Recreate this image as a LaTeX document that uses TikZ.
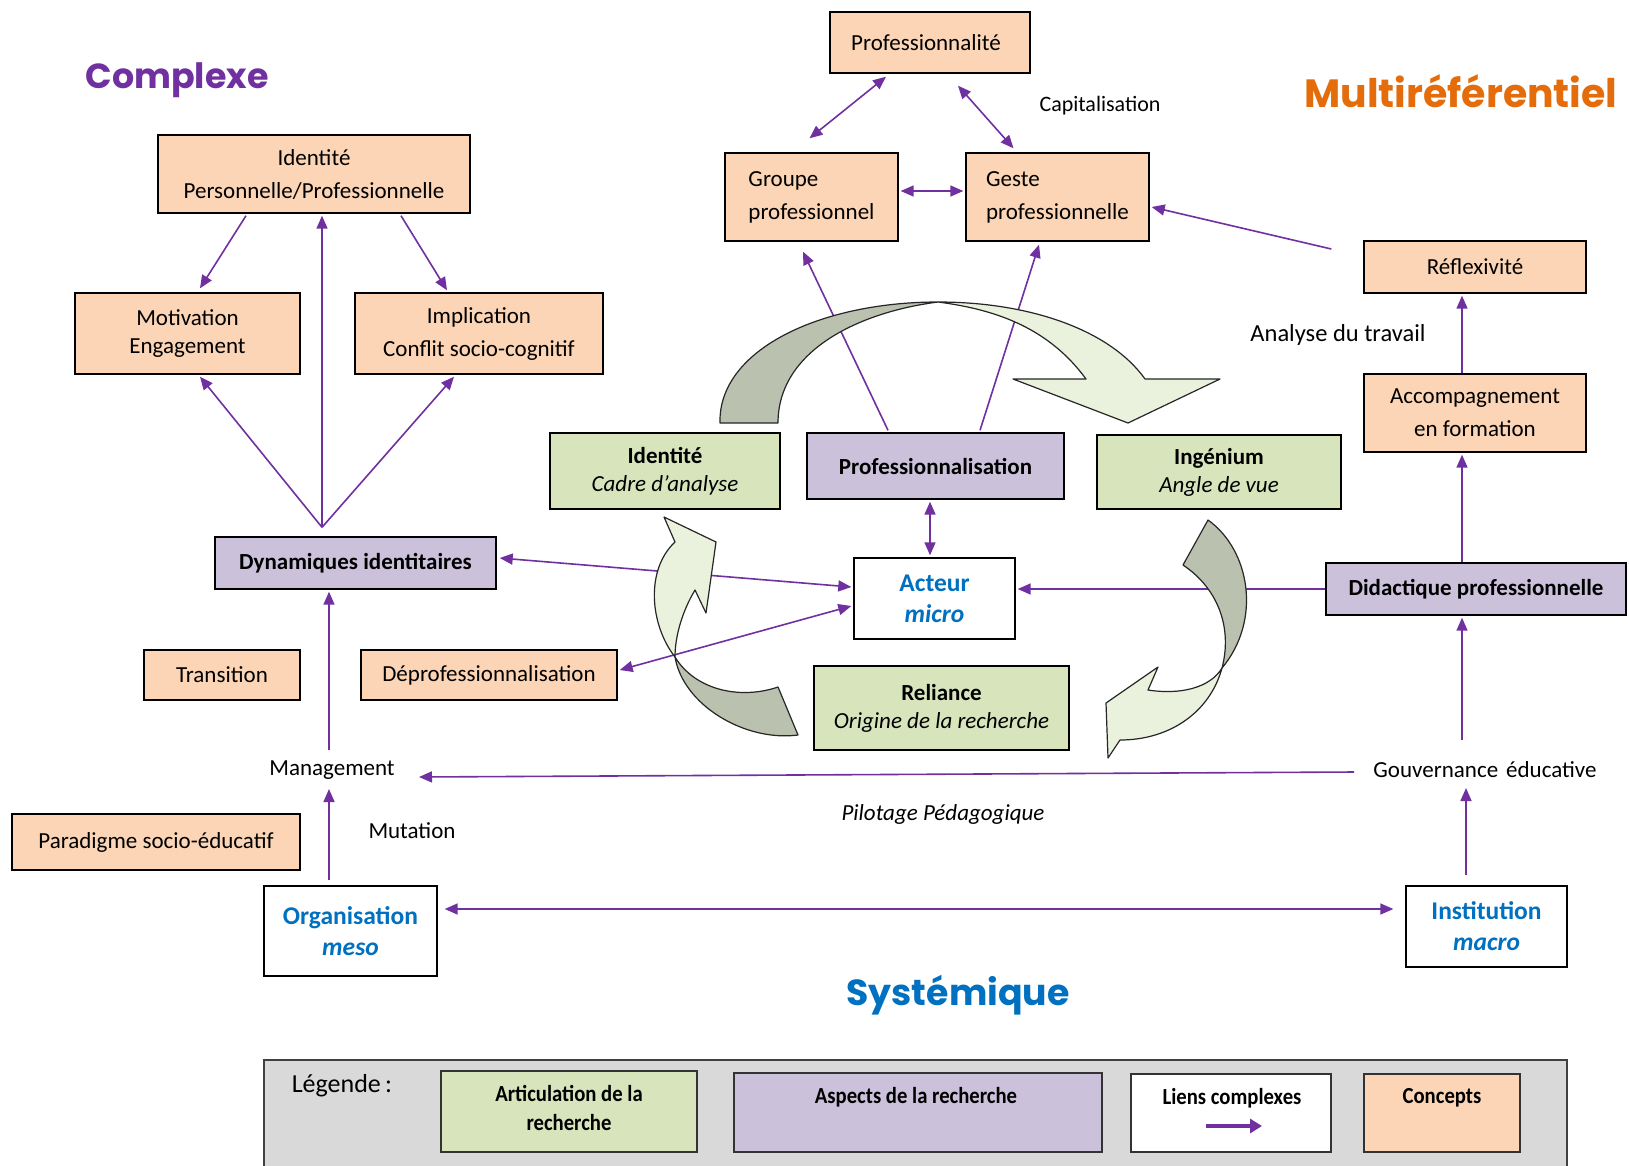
\documentclass[tikz,border=0pt]{standalone}
\usepackage{fontspec}
\setmainfont{Carlito}
\newfontfamily\titlefont{Poppins}
\usetikzlibrary{arrows.meta,calc}
\definecolor{orfill}{HTML}{FBD5B5}
\definecolor{grfill}{HTML}{D7E4BC}
\definecolor{pufill}{HTML}{CCC1DA}
\definecolor{arrcol}{HTML}{7030A0}
\definecolor{bluet}{HTML}{0070C0}
\definecolor{oranget}{HTML}{E46C0A}
\definecolor{darkarc}{HTML}{BAC1AF}
\definecolor{lightarc}{HTML}{EAF1DD}
\definecolor{leggray}{HTML}{D9D9D9}
\begin{document}
\begin{tikzpicture}[x=1pt,y=-1pt,
  base/.style={draw=black, line width=1.4pt, inner sep=0pt, align=center, font=\fontsize{23}{33}\selectfont},
  concept/.style={base, fill=orfill},
  aspect/.style={base, fill=pufill, font=\fontsize{23}{26}\selectfont\bfseries},
  artic/.style={base, fill=grfill, font=\fontsize{23}{28}\selectfont},
  lien/.style={base, fill=white, text=bluet, font=\fontsize{25.5}{31}\selectfont\bfseries},
  lbl/.style={inner sep=0pt, font=\fontsize{23}{26}\selectfont},
  title/.style={inner sep=0pt, font=\titlefont\bfseries},
  arr/.style={draw=arrcol, line width=1.6pt, -{Triangle[length=13pt,width=11pt]}},
  darr/.style={draw=arrcol, line width=1.6pt, {Triangle[length=13pt,width=11pt]}-{Triangle[length=13pt,width=11pt]}},
  arcshape/.style={draw=black!85, line width=1.2pt, line join=round},
  legbox/.style={draw=black!80, line width=1.4pt},
  legtext/.style={inner sep=0pt, align=center, font=\fontsize{23}{29}\selectfont\bfseries}
]
\useasboundingbox (0,0) rectangle (1629,1165);
\fill[white] (0,0) rectangle (1629,1165);

% titles
\node[title, text=arrcol] (tcomplexe) at (177,80) {\resizebox{183pt}{!}{Complexe}};
\node[title, text=oranget] (tmulti) at (1461,91) {\resizebox{313pt}{!}{Multiréférentiel}};
\node[title, text=bluet] (tsyst) at (958,995) {\resizebox{223pt}{!}{Systémique}};

% concepts (orange)
\node[concept, minimum width=200pt, minimum height=61pt] (prof) at (930,42.5) {Professionnalité\hspace{8pt}};
\node[concept, minimum width=173pt, minimum height=88pt, align=left] (groupe) at (811.5,197) {Groupe\\professionnel};
\node[concept, minimum width=183pt, minimum height=88pt, align=left] (geste) at (1057.5,197) {Geste\\professionnelle};
\node[concept, minimum width=222pt, minimum height=52pt] (reflex) at (1475,267) {Réflexivité};
\node[concept, minimum width=222pt, minimum height=78pt] (accomp) at (1475,413) {Accompagnement\\en formation};
\node[concept, minimum width=312pt, minimum height=78pt] (identpp) at (314,174) {Identité\\Personnelle/Professionnelle};
\node[concept, minimum width=225pt, minimum height=81pt, font=\fontsize{23}{28}\selectfont] (motiv) at (187.5,333.5) {Motivation\\Engagement};
\node[concept, minimum width=248pt, minimum height=81pt] (implic) at (479,333.5) {Implication\\Conflit socio-cognitif};
\node[concept, minimum width=156pt, minimum height=50pt] (trans) at (222,675) {Transition};
\node[concept, minimum width=256pt, minimum height=50pt] (deprof) at (489,675) {Déprofessionnalisation};
\node[concept, minimum width=288pt, minimum height=56pt] (parad) at (156,842) {Paradigme socio-éducatif};

% aspects (purple)
\node[aspect, minimum width=300pt, minimum height=52pt] (didac) at (1476,589) {Didactique professionnelle};
\node[aspect, minimum width=281pt, minimum height=52pt] (dyn) at (355.5,563) {Dynamiques identitaires};
\node[aspect, minimum width=257pt, minimum height=66pt] (profsation) at (935.5,466) {Professionnalisation};

% articulation (green)
\node[artic, minimum width=230pt, minimum height=76pt] (identc) at (665,471) {\textbf{Identité}\\\textit{Cadre d’analyse}};
\node[artic, minimum width=244pt, minimum height=74pt] (ingen) at (1219,472) {\textbf{Ingénium}\\\textit{Angle de vue}};
\node[artic, minimum width=255pt, minimum height=84pt] (reliance) at (941.5,708) {\textbf{Reliance}\\\textit{Origine de la recherche}};

% liens (white)
\node[lien, minimum width=161pt, minimum height=81pt] (acteur) at (934.5,598.5) {Acteur\\\textit{micro}};
\node[lien, minimum width=173pt, minimum height=90pt] (organ) at (350.5,931) {Organisation\\\textit{meso}};
\node[lien, minimum width=161pt, minimum height=81pt] (instit) at (1486.5,926.5) {Institution\\\textit{macro}};

% plain labels
\node[lbl, font=\fontsize{22}{24}\selectfont] (capit) at (1100,106) {Capitalisation};
\node[lbl, font=\fontsize{24.5}{26}\selectfont] (analyse) at (1338,335) {Analyse du travail};
\node[lbl] (gouv) at (1485,770) {Gouvernance\hspace{8pt}éducative};
\node[lbl] (mgmt) at (332,770) {Management};
\node[lbl] (mutation) at (412,831) {Mutation};
\node[lbl, font=\fontsize{23}{26}\selectfont\itshape] (pilot) at (943,814) {Pilotage Pédagogique};

% connectors
\coordinate (apex) at ($(dyn.north)+(-33.5,-9)$);
\coordinate (reflexend) at ($(reflex.west)+(-32,-18)$);
\draw[darr] ($(prof.south)+(-44,3)$) -- ($(groupe.north)+(-2,-14)$);
\draw[darr] ($(prof.south)+(28,12)$) -- ($(geste.north)+(-44,-4)$);
\draw[darr] ($(groupe.east)+(2,-6)$) -- ($(geste.west)+(-2,-6)$);
\draw[arr] (reflexend) -- ($(geste.east)+(2,10)$);
\draw[arr] ($(accomp.north)+(-13,0)$) -- ($(reflex.south)+(-13,2)$);
\draw[arr] ($(didac.north)+(-14,0)$) -- ($(accomp.south)+(-13,2)$);
\draw[arr] ($(gouv.center)+(-23,-30)$) -- ($(didac.south)+(-14,2)$);
\draw[arr] ($(instit.north)+(-20.5,-10)$) -- ($(gouv.center)+(-19,18)$);
\draw[arr] ($(gouv.center)+(-131,2)$) -- ($(mgmt.center)+(87,7)$);
\draw[darr] ($(organ.east)+(7,-22)$) -- ($(instit.west)+(-12,-17.5)$);
\draw[arr] ($(organ.north)+(-21.5,-5)$) -- ($(mgmt.center)+(-3,19)$);
\draw[arr] ($(mgmt.center)+(-3,-20)$) -- ($(dyn.south)+(-26.5,2)$);
\draw[arr] (apex) -- ($(motiv.south)+(12.5,2)$);
\draw[arr] (apex) -- ($(identpp.south)+(8,2)$);
\draw[arr] (apex) -- ($(implic.south)+(-25,2)$);
\draw[arr] ($(identpp.south)+(-68,2)$) -- ($(motiv.north)+(12.5,-4)$);
\draw[arr] ($(identpp.south)+(87,2)$) -- ($(implic.north)+(-32,-2)$);
\draw[arr] (didac.west) -- ($(acteur.east)+(2,-9.5)$);
\draw[darr] ($(profsation.south)+(-5.5,2)$) -- ($(acteur.north)+(-4.5,-2)$);
\draw[arr] ($(profsation.north)+(-47.5,-2)$) -- ($(groupe.south)+(-8.5,10)$);
\draw[arr] ($(profsation.north)+(44.5,-2)$) -- ($(geste.south)+(-18.5,3)$);
\draw[darr] ($(dyn.east)+(3,-5)$) -- ($(acteur.west)+(-2,-11.5)$);
\draw[darr] ($(deprof.east)+(2,-5)$) -- ($(acteur.west)+(-2,7.5)$);

% cycle arrows (drawn over the connectors)
\filldraw[arcshape, fill=darkarc] (720,423) .. controls (718,350) and (820,302) .. (938,302)
  .. controls (860,312) and (778,350) .. (778,423) -- cycle;
\filldraw[arcshape, fill=lightarc] (938,302) .. controls (1030,302) and (1110,330) .. (1145,379)
  -- (1220,379) -- (1128,423) -- (1013,379) -- (1086,379)
  .. controls (1050,330) and (1000,310) .. (938,302) -- cycle;
\filldraw[arcshape, fill=lightarc] (664,517) -- (716,542) -- (706,613) -- (695,590)
  .. controls (683,610) and (675,635) .. (675,657)
  .. controls (650,625) and (645,570) .. (675,542) -- cycle;
\filldraw[arcshape, fill=darkarc] (675,657) .. controls (683,705) and (745,742) .. (798,735)
  -- (778,687) .. controls (740,700) and (695,690) .. (675,657) -- cycle;
\filldraw[arcshape, fill=darkarc] (1208,520) .. controls (1250,550) and (1262,620) .. (1222,668)
  .. controls (1232,630) and (1220,590) .. (1183,565) -- cycle;
\filldraw[arcshape, fill=lightarc] (1222,668) .. controls (1210,712) and (1170,740) .. (1120,740)
  -- (1108,758) -- (1106,703) -- (1158,667) -- (1148,690)
  .. controls (1180,695) and (1210,688) .. (1222,668) -- cycle;

% legend
\filldraw[draw=black!75, line width=1.5pt, fill=leggray] (264,1175) -- (264,1060) -- (1567,1060) -- (1567,1175);
\node[inner sep=0pt, font=\fontsize{26}{28}\selectfont] (legende) at (342,1086) {Légende\,:};
\node[legbox, fill=grfill, minimum width=256pt, minimum height=81pt, inner sep=0pt] (lgreen) at (569,1111.5) {};
\node[legbox, fill=pufill, minimum width=368pt, minimum height=79pt, inner sep=0pt] (lpurple) at (918,1112.5) {};
\node[legbox, fill=white, minimum width=200pt, minimum height=78pt, inner sep=0pt] (lwhite) at (1231,1113) {};
\node[legbox, fill=orfill, minimum width=156pt, minimum height=78pt, inner sep=0pt] (lorange) at (1442,1113) {};
\node[legtext] (tgreen) at (569,1107.5) {\scalebox{0.9}[1]{Articulation de la}\\\scalebox{0.9}[1]{recherche}};
\node[legtext] (tpurple) at (916,1097) {\scalebox{0.9}[1]{Aspects de la recherche}};
\node[legtext] (twhite) at (1232,1098) {\scalebox{0.9}[1]{Liens complexes}};
\node[legtext] (torange) at (1442,1098) {\scalebox{0.9}[1]{Concepts}};
\coordinate (larrs) at ($(lwhite.center)+(-25,13)$);
\coordinate (larre) at ($(lwhite.center)+(31,13)$);
\draw[draw=arrcol, line width=4pt, -{Triangle[length=12pt,width=14pt]}] (larrs) -- (larre);
\end{tikzpicture}
\end{document}
